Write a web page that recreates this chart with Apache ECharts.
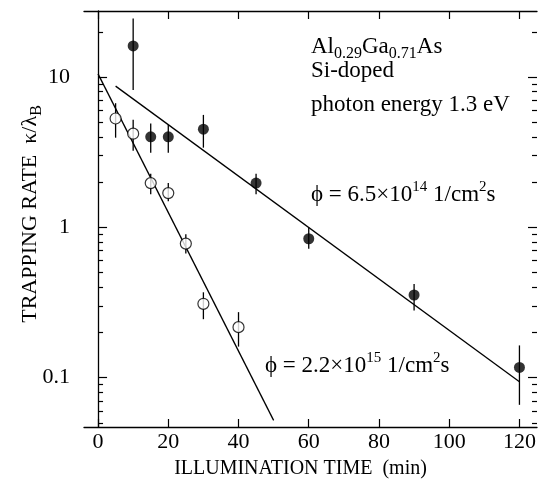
<!DOCTYPE html>
<html>
<head>
<meta charset="utf-8">
<script src="https://cdn.jsdelivr.net/npm/echarts@6/dist/echarts.min.js"></script>
<style>
  html, body { margin: 0; padding: 0; background: #fff; }
  #chart { width: 541px; height: 483px; }
</style>
</head>
<body>
<div id="chart"></div>
<script>
// filled circles: phi = 6.5e14
const filledTime = [10, 15, 20, 30, 45, 60, 90, 120];
const filledRate = [16.1, 4.0, 4.0, 4.5, 1.97, 0.84, 0.355, 0.117];
const filledLow = [8.2, 3.14, 3.14, 3.39, 1.66, 0.72, 0.28, 0.066];
const filledHigh = [24.5, 4.9, 4.8, 5.6, 2.27, 1.0, 0.42, 0.164];

// open circles: phi = 2.2e15
const openTime = [5, 10, 15, 20, 25, 30, 40];
const openRate = [5.3, 4.2, 1.97, 1.69, 0.78, 0.31, 0.217];
const openLow = [3.95, 3.24, 1.66, 1.49, 0.67, 0.245, 0.161];
const openHigh = [6.7, 5.2, 2.27, 1.97, 0.9, 0.37, 0.273];

// fitted lines
const fitLowTime = [5, 120];
const fitLowRate = [8.7, 0.094];
const fitHighTime = [0, 50];
const fitHighRate = [10.5, 0.052];

// ticks
const xTicks = [0, 20, 40, 60, 80, 100, 120];
const yMajor = [0.1, 1, 10];
const yMinor = [0.05, 0.06, 0.07, 0.08, 0.09, 0.2, 0.3, 0.4, 0.5, 0.6, 0.7, 0.8, 0.9,
  2, 3, 4, 5, 6, 7, 8, 9, 20];

const serif = '"Liberation Serif", "DejaVu Serif", serif';
const zip = (a, b) => a.map((v, i) => [v, b[i]]);
const zip3 = (a, b, c) => a.map((v, i) => [v, b[i], c[i]]);

const X_MIN = -4, X_MAX = 125, Y_MIN = 0.047, Y_MAX = 27.5;

function yAxisDef(pos, values, len, showLine, showLabel) {
  return {
    type: 'log', position: pos, min: Y_MIN, max: Y_MAX,
    axisLine: { show: showLine, lineStyle: { color: '#000', width: 1.3 } },
    axisTick: { show: true, inside: true, length: len, customValues: values,
      lineStyle: { color: '#000', width: 1.2 } },
    axisLabel: { show: showLabel, customValues: yMajor, color: '#000', fontFamily: serif,
      fontSize: 22, margin: 14, formatter: v => String(+v.toPrecision(3)) },
    splitLine: { show: false }, minorTick: { show: false }
  };
}

const chart = echarts.init(document.getElementById('chart'));

function errorBars(data) {
  return {
    type: 'custom', z: 1, data: data,
    encode: { x: 0, y: [1, 2] },
    renderItem: (params, api) => {
      const p1 = api.coord([api.value(0), api.value(1)]);
      const p2 = api.coord([api.value(0), api.value(2)]);
      return { type: 'line', shape: { x1: p1[0], y1: p1[1], x2: p2[0], y2: p2[1] },
        style: { stroke: '#000', lineWidth: 1.3 } };
    }
  };
}

const sub = { fontFamily: serif, fontSize: 16, verticalAlign: 'bottom', lineHeight: 30 };
const sup = { fontFamily: serif, fontSize: 15, verticalAlign: 'top', lineHeight: 30 };

chart.setOption({
  animation: false,
  backgroundColor: '#fff',
  grid: { left: 84, right: 4, top: 11, bottom: 56, outerBoundsMode: 'none' },
  xAxis: [
    {
      type: 'value', position: 'bottom', min: X_MIN, max: X_MAX,
      name: 'ILLUMINATION TIME  (min)', nameLocation: 'middle', nameGap: 32,
      nameTextStyle: { color: '#000', fontFamily: serif, fontSize: 20, padding: [0, 20, 0, 0] },
      axisLine: { lineStyle: { color: '#000', width: 1.3 } },
      axisTick: { inside: true, length: 8, customValues: xTicks, lineStyle: { color: '#000', width: 1.2 } },
      axisLabel: { customValues: xTicks, color: '#000', fontFamily: serif, fontSize: 22, margin: 4 },
      splitLine: { show: false }
    },
    {
      type: 'value', position: 'top', min: X_MIN, max: X_MAX,
      axisLine: { lineStyle: { color: '#000', width: 1.3 } },
      axisTick: { inside: true, length: 8, customValues: xTicks, lineStyle: { color: '#000', width: 1.2 } },
      axisLabel: { show: false },
      splitLine: { show: false }
    }
  ],
  yAxis: [
    yAxisDef('left', yMajor, 9, true, true),
    yAxisDef('left', yMinor, 5, false, false),
    yAxisDef('right', yMajor, 9, false, false),
    yAxisDef('right', yMinor, 5, false, false)
  ],
  series: [
    { type: 'line', z: 1, data: zip(fitLowTime, fitLowRate), symbol: 'none',
      lineStyle: { color: '#000', width: 1.3 } },
    { type: 'line', z: 1, data: zip(fitHighTime, fitHighRate), symbol: 'none',
      lineStyle: { color: '#000', width: 1.3 } },
    errorBars(zip3(filledTime, filledLow, filledHigh)),
    errorBars(zip3(openTime, openLow, openHigh)),
    { type: 'scatter', z: 3, data: zip(filledTime, filledRate), symbol: 'circle', symbolSize: 11,
      itemStyle: { color: '#000' } },
    { type: 'scatter', z: 3, data: zip(openTime, openRate), symbol: 'circle', symbolSize: 11,
      itemStyle: { color: '#fff', borderColor: '#000', borderWidth: 1.2 } }
  ],
  graphic: [
    // y axis title, rotated
    { type: 'text', x: 30, y: 214, rotation: Math.PI / 2, style: {
      text: 'TRAPPING RATE  κ/λ{sub|B}', fill: '#000', fontFamily: serif, fontSize: 22,
      align: 'center', verticalAlign: 'middle', rich: { sub: sub } } },
    { type: 'text', x: 311, y: 47, style: {
      text: 'Al{sub|0.29}Ga{sub|0.71}As', fill: '#000', fontFamily: serif, fontSize: 23, verticalAlign: 'middle',
      rich: { sub: sub } } },
    { type: 'text', x: 311, y: 71, style: {
      text: 'Si-doped', fill: '#000', fontFamily: serif, fontSize: 23, verticalAlign: 'middle' } },
    { type: 'text', x: 311, y: 105, style: {
      text: 'photon energy 1.3 eV', fill: '#000', fontFamily: serif, fontSize: 23, verticalAlign: 'middle' } },
    { type: 'text', x: 311, y: 195, style: {
      text: 'ϕ = 6.5×10{sup|14} 1/cm{sup|2}s', fill: '#000', fontFamily: serif, fontSize: 23, verticalAlign: 'middle',
      rich: { sup: sup } } },
    { type: 'text', x: 265, y: 366, style: {
      text: 'ϕ = 2.2×10{sup|15} 1/cm{sup|2}s', fill: '#000', fontFamily: serif, fontSize: 23, verticalAlign: 'middle',
      rich: { sup: sup } } }
  ]
});
</script>
</body>
</html>
